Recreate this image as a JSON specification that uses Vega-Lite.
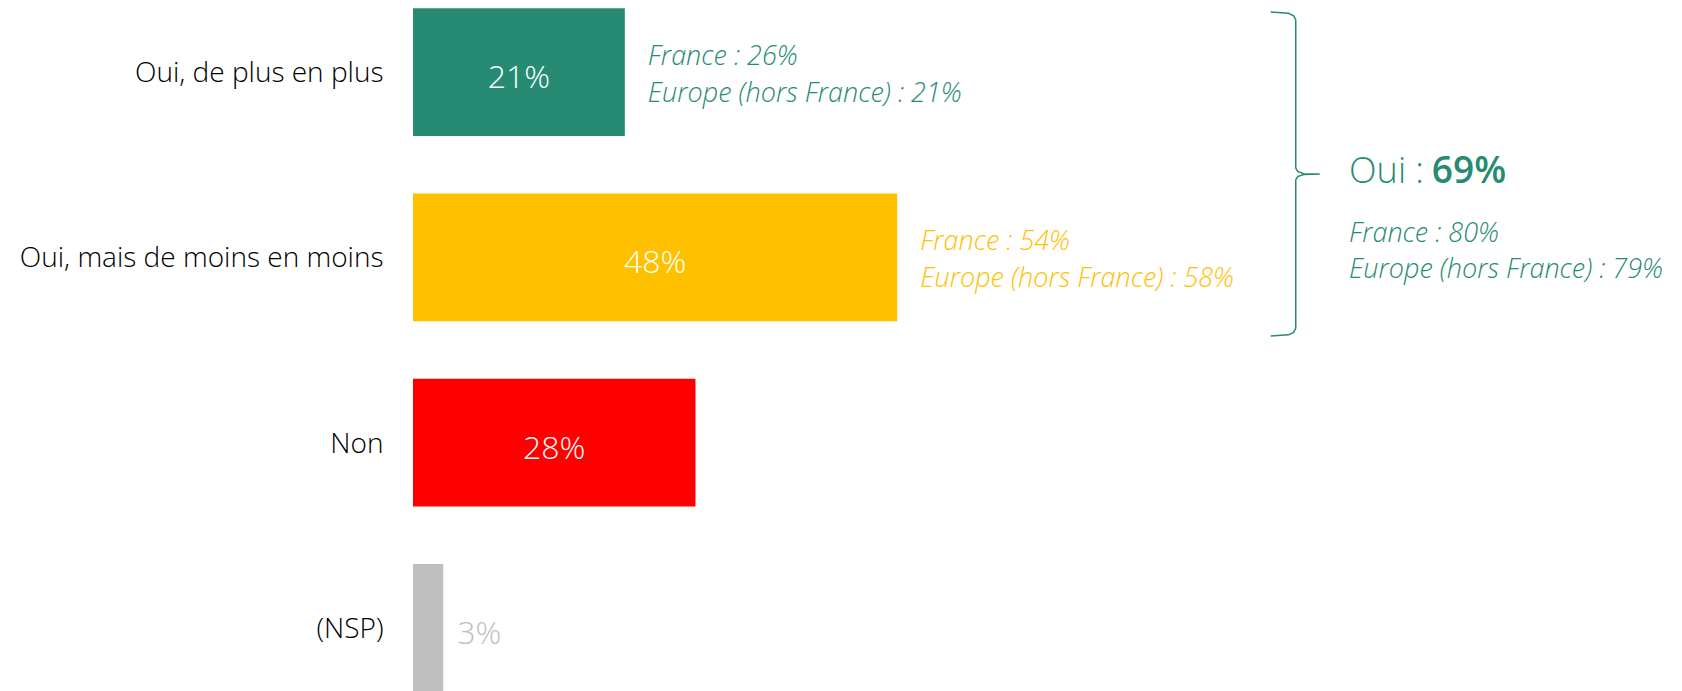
{
  "$schema": "https://vega.github.io/schema/vega-lite/v6.json",
  "autosize": {"type": "none"},
  "padding": {"left": 413, "top": 0, "right": 0, "bottom": 0},
  "width": 1269,
  "height": 691,
  "background": "white",
  "config": {"view": {"stroke": null}, "font": "Open Sans"},
  "datasets": {
    "bars": [
      {"cat": "Oui, de plus en plus", "value": 21, "label": "21%", "note": "France : 26%\nEurope (hors France) : 21%"},
      {"cat": "Oui, mais de moins en moins", "value": 48, "label": "48%", "note": "France : 54%\nEurope (hors France) : 58%"},
      {"cat": "Non", "value": 28, "label": "28%", "note": ""},
      {"cat": "(NSP)", "value": 3, "label": "3%", "note": ""}
    ],
    "brace": [
      {"order": 1, "x": 85.03, "u": -0.325},
      {"order": 2, "x": 86.8, "u": -0.318},
      {"order": 3, "x": 87.3, "u": -0.305},
      {"order": 4, "x": 87.51, "u": -0.282},
      {"order": 5, "x": 87.51, "u": 0.517},
      {"order": 6, "x": 87.7, "u": 0.536},
      {"order": 7, "x": 88.3, "u": 0.548},
      {"order": 8, "x": 89.89, "u": 0.55},
      {"order": 9, "x": 88.3, "u": 0.552},
      {"order": 10, "x": 87.7, "u": 0.564},
      {"order": 11, "x": 87.51, "u": 0.582},
      {"order": 12, "x": 87.51, "u": 1.382},
      {"order": 13, "x": 87.3, "u": 1.405},
      {"order": 14, "x": 86.8, "u": 1.418},
      {"order": 15, "x": 85.03, "u": 1.424}
    ],
    "total": [
      {"x": 92.8, "u": 0.537, "text": "Oui :", "kind": "head"},
      {"x": 101.0, "u": 0.537, "text": "69%", "kind": "bold"},
      {"x": 92.8, "u": 0.8735, "text": "France : 80%\nEurope (hors France) : 79%", "kind": "note"}
    ]
  },
  "resolve": {"scale": {"y": "independent"}},
  "layer": [
    {
      "data": {"name": "bars"},
      "encoding": {
        "y": {
          "field": "cat", "type": "nominal",
          "sort": ["Oui, de plus en plus", "Oui, mais de moins en moins", "Non", "(NSP)"],
          "scale": {"domain": ["Oui, de plus en plus", "Oui, mais de moins en moins", "Non", "(NSP)"], "range": [0, 700], "paddingInner": 0.31, "paddingOuter": 0.045},
          "axis": {"title": null, "domain": false, "ticks": false, "labelPadding": 30, "labelFontSize": 28, "labelFont": "Open Sans", "labelFontWeight": 300, "labelColor": "#000000", "labelLimit": 400, "labelOffset": 2}
        }
      },
      "layer": [
        {
          "mark": {"type": "bar"},
          "encoding": {
            "x": {"field": "value", "type": "quantitative", "scale": {"domain": [0, 125.8], "nice": false}, "axis": null},
            "color": {"field": "cat", "type": "nominal", "legend": null,
              "scale": {"domain": ["Oui, de plus en plus", "Oui, mais de moins en moins", "Non", "(NSP)"], "range": ["#278B74", "#FFC000", "#FF0000", "#BFBFBF"]}}
          }
        },
        {
          "transform": [{"filter": "datum.value > 5"}, {"calculate": "datum.value / 2", "as": "mid"}],
          "mark": {"type": "text", "align": "center", "baseline": "middle", "fontSize": 32, "fontWeight": 300, "color": "white", "font": "Open Sans", "dy": 6},
          "encoding": {
            "x": {"field": "mid", "type": "quantitative", "scale": {"domain": [0, 125.8], "nice": false}, "axis": null},
            "text": {"field": "label"}
          }
        },
        {
          "transform": [{"filter": "datum.value <= 5"}],
          "mark": {"type": "text", "align": "left", "baseline": "middle", "fontSize": 32, "fontWeight": 300, "color": "#BFBFBF", "dx": 14, "dy": 6, "font": "Open Sans"},
          "encoding": {
            "x": {"field": "value", "type": "quantitative", "scale": {"domain": [0, 125.8], "nice": false}, "axis": null},
            "text": {"field": "label"}
          }
        },
        {
          "transform": [{"filter": "datum.note != ''"}],
          "mark": {"type": "text", "align": "left", "baseline": "middle", "fontSize": 27, "fontStyle": "italic", "fontWeight": 300, "dx": 23, "dy": -15, "lineBreak": "\n", "lineHeight": 37, "font": "Open Sans"},
          "encoding": {
            "x": {"field": "value", "type": "quantitative", "scale": {"domain": [0, 125.8], "nice": false}, "axis": null},
            "text": {"field": "note"},
            "color": {"field": "cat", "type": "nominal", "legend": null,
              "scale": {"domain": ["Oui, de plus en plus", "Oui, mais de moins en moins", "Non", "(NSP)"], "range": ["#278B74", "#FFC000", "#FF0000", "#BFBFBF"]}}
          }
        }
      ]
    },
    {
      "layer": [
        {
          "data": {"name": "brace"},
          "mark": {"type": "line", "color": "#278B74", "strokeWidth": 1.5, "interpolate": "linear"},
          "encoding": {
            "x": {"field": "x", "type": "quantitative", "scale": {"domain": [0, 125.8], "nice": false}, "axis": null},
            "y": {"field": "u", "type": "quantitative", "scale": {"domain": [-0.39, 3.39], "range": [0, 700], "nice": false, "zero": false}, "axis": null},
            "order": {"field": "order", "type": "quantitative"}
          }
        },
        {
          "data": {"name": "total"},
          "transform": [{"filter": "datum.kind == 'head'"}],
          "mark": {"type": "text", "align": "left", "baseline": "middle", "fontSize": 36, "fontWeight": 300, "color": "#278B74", "font": "Open Sans"},
          "encoding": {
            "x": {"field": "x", "type": "quantitative", "scale": {"domain": [0, 125.8], "nice": false}, "axis": null},
            "y": {"field": "u", "type": "quantitative", "scale": {"domain": [-0.39, 3.39], "range": [0, 700], "nice": false, "zero": false}, "axis": null},
            "text": {"field": "text"}
          }
        },
        {
          "data": {"name": "total"},
          "transform": [{"filter": "datum.kind == 'bold'"}],
          "mark": {"type": "text", "align": "left", "baseline": "middle", "fontSize": 37, "fontWeight": 600, "color": "#278B74", "font": "Open Sans"},
          "encoding": {
            "x": {"field": "x", "type": "quantitative", "scale": {"domain": [0, 125.8], "nice": false}, "axis": null},
            "y": {"field": "u", "type": "quantitative", "scale": {"domain": [-0.39, 3.39], "range": [0, 700], "nice": false, "zero": false}, "axis": null},
            "text": {"field": "text"}
          }
        },
        {
          "data": {"name": "total"},
          "transform": [{"filter": "datum.kind == 'note'"}],
          "mark": {"type": "text", "align": "left", "baseline": "middle", "fontSize": 27, "fontStyle": "italic", "fontWeight": 300, "color": "#278B74", "lineBreak": "\n", "lineHeight": 36, "font": "Open Sans"},
          "encoding": {
            "x": {"field": "x", "type": "quantitative", "scale": {"domain": [0, 125.8], "nice": false}, "axis": null},
            "y": {"field": "u", "type": "quantitative", "scale": {"domain": [-0.39, 3.39], "range": [0, 700], "nice": false, "zero": false}, "axis": null},
            "text": {"field": "text"}
          }
        }
      ]
    }
  ]
}
